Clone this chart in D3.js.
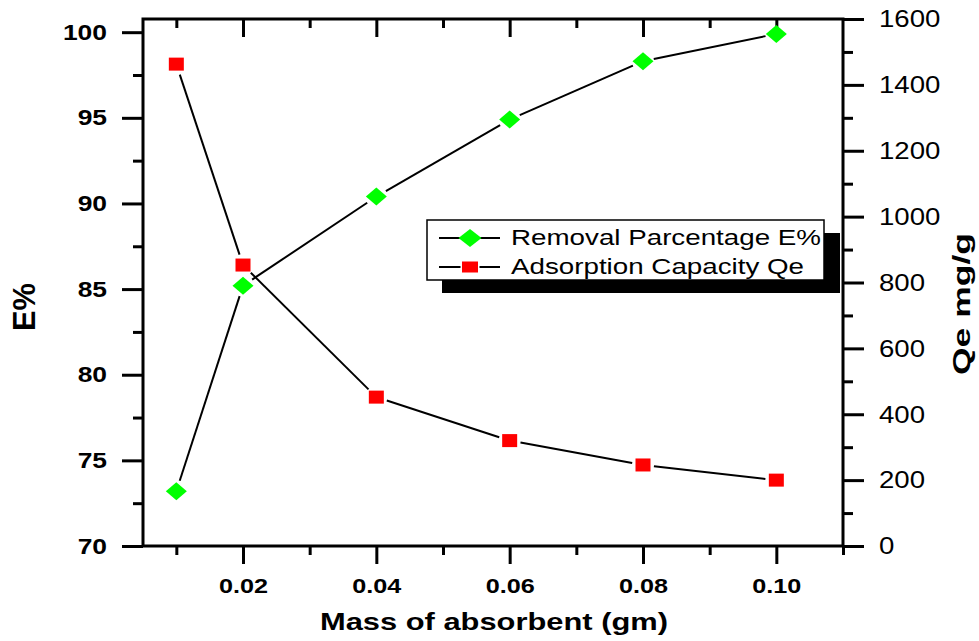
<!DOCTYPE html>
<html>
<head>
  <meta charset="utf-8">
  <script src="https://cdn.jsdelivr.net/npm/d3@7"></script>
  <style>
  body { margin: 0; background: #fff; }
  svg text { font-family: Arial, "Liberation Sans", sans-serif; fill: #000; }
  .axis .domain { display: none; }
  .axis line { stroke: #000; stroke-width: 3; }
  </style>
</head>
<body>
<script>
  // data
  var mass = [0.01, 0.02, 0.04, 0.06, 0.08, 0.10];
  var removal = [73.2, 85.2, 90.4, 94.9, 98.3, 99.9];      // E%
  var capacity = [1463, 853, 452, 320, 246, 200];          // Qe mg/g

  var xMajor = [0.02, 0.04, 0.06, 0.08, 0.10];
  var xMinor = [0.01, 0.03, 0.05, 0.07, 0.09, 0.11];
  var eMajor = [70, 75, 80, 85, 90, 95, 100];
  var eMinor = [72.5, 77.5, 82.5, 87.5, 92.5, 97.5];
  var qMajor = [0, 200, 400, 600, 800, 1000, 1200, 1400, 1600];
  var qMinor = [100, 300, 500, 700, 900, 1100, 1300, 1500];

  var seriesNames = ["Removal Parcentage E%", "Adsorption Capacity Qe"];

  var canvasWidth = 979, canvasHeight = 641;
  var margin = {left: 143, right: 843, top: 19, bottom: 546};
  var SX = 1.2; // the original text is drawn a little wider than normal

  var svg = d3.select("body").append("svg")
      .attr("width", canvasWidth)
      .attr("height", canvasHeight);

  var x = d3.scaleLinear().domain([0.005, 0.11]).range([margin.left, margin.right]);
  var yE = d3.scaleLinear().domain([70, 100.77]).range([margin.bottom, margin.top]);
  var yQ = d3.scaleLinear().domain([0, 1600]).range([margin.bottom, margin.top]);

  function widen(sel, f) {
    sel.each(function() {
      var w = this.getComputedTextLength();
      d3.select(this).attr("textLength", w * f).attr("lengthAdjust", "spacingAndGlyphs");
    });
  }

  // bottom axis
  var gx = svg.append("g").attr("class", "axis")
      .attr("transform", "translate(0," + margin.bottom + ")")
      .call(d3.axisBottom(x).tickValues(xMajor).tickSize(18).tickSizeOuter(0).tickFormat(d3.format(".2f")));
  gx.selectAll("text").attr("y", 32).attr("dy", "0.71em")
      .attr("font-size", 21).attr("font-weight", "bold");
  svg.append("g").attr("class", "axis")
      .attr("transform", "translate(0," + margin.bottom + ")")
      .call(d3.axisBottom(x).tickValues(xMinor).tickSize(9).tickSizeOuter(0).tickFormat(""));

  // top axis, ticks inward
  svg.append("g").attr("class", "axis")
      .attr("transform", "translate(0," + margin.top + ")")
      .call(d3.axisBottom(x).tickValues(xMajor).tickSize(18).tickSizeOuter(0).tickFormat(""));
  svg.append("g").attr("class", "axis")
      .attr("transform", "translate(0," + margin.top + ")")
      .call(d3.axisBottom(x).tickValues(xMinor.slice(0, 5)).tickSize(9).tickSizeOuter(0).tickFormat(""));

  // left axis
  var gl = svg.append("g").attr("class", "axis")
      .attr("transform", "translate(" + margin.left + ",0)")
      .call(d3.axisLeft(yE).tickValues(eMajor).tickSize(21).tickSizeOuter(0).tickFormat(d3.format("d")));
  gl.selectAll("text").attr("x", -36).attr("dy", "0.32em")
      .attr("font-size", 22).attr("font-weight", "bold");
  svg.append("g").attr("class", "axis")
      .attr("transform", "translate(" + margin.left + ",0)")
      .call(d3.axisLeft(yE).tickValues(eMinor).tickSize(10).tickSizeOuter(0).tickFormat(""));

  // right axis
  var gr = svg.append("g").attr("class", "axis")
      .attr("transform", "translate(" + margin.right + ",0)")
      .call(d3.axisRight(yQ).tickValues(qMajor).tickSize(21).tickSizeOuter(0).tickFormat(d3.format("d")));
  gr.selectAll("text").attr("x", 36).attr("dy", "0.34em")
      .attr("font-size", 23);
  svg.append("g").attr("class", "axis")
      .attr("transform", "translate(" + margin.right + ",0)")
      .call(d3.axisRight(yQ).tickValues(qMinor).tickSize(10).tickSizeOuter(0).tickFormat(""));

  svg.selectAll(".axis").attr("font-family", null);
  svg.selectAll(".axis text").call(widen, SX);

  // frame
  svg.append("rect")
      .attr("x", margin.left).attr("y", margin.top)
      .attr("width", margin.right - margin.left).attr("height", margin.bottom - margin.top)
      .attr("fill", "none").attr("stroke", "#000").attr("stroke-width", 3);

  // connecting lines, stopped short of the markers
  function gappedSegments(pts, gap) {
    var segs = [];
    for (var i = 0; i < pts.length - 1; i++) {
      var x0 = pts[i][0], y0 = pts[i][1], x1 = pts[i + 1][0], y1 = pts[i + 1][1];
      var dx = x1 - x0, dy = y1 - y0, len = Math.sqrt(dx * dx + dy * dy);
      var ux = dx / len, uy = dy / len;
      segs.push([x0 + ux * gap, y0 + uy * gap, x1 - ux * gap, y1 - uy * gap]);
    }
    return segs;
  }

  var ePts = mass.map(function(m, i) { return [x(m), yE(removal[i])]; });
  var qPts = mass.map(function(m, i) { return [x(m), yQ(capacity[i])]; });

  [ePts, qPts].forEach(function(pts) {
    svg.append("g").selectAll("line")
      .data(gappedSegments(pts, 11))
      .enter().append("line")
      .attr("x1", function(d) { return d[0]; })
      .attr("y1", function(d) { return d[1]; })
      .attr("x2", function(d) { return d[2]; })
      .attr("y2", function(d) { return d[3]; })
      .attr("stroke", "#000").attr("stroke-width", 2);
  });

  function diamond(w, h) {
    return "M0," + (-h) + "L" + w + ",0L0," + h + "L" + (-w) + ",0Z";
  }

  svg.append("g").selectAll("path")
    .data(ePts).enter().append("path")
    .attr("transform", function(d) { return "translate(" + d[0] + "," + d[1] + ")"; })
    .attr("d", diamond(10.5, 9))
    .attr("fill", "#00ff00");

  svg.append("g").selectAll("rect")
    .data(qPts).enter().append("rect")
    .attr("x", function(d) { return d[0] - 7.5; })
    .attr("y", function(d) { return d[1] - 6.5; })
    .attr("width", 15).attr("height", 13)
    .attr("fill", "#ff0000");

  // legend
  var lg = svg.append("g");
  lg.append("rect").attr("x", 442).attr("y", 233).attr("width", 398).attr("height", 60).attr("fill", "#000");
  lg.append("rect").attr("x", 427).attr("y", 220).attr("width", 397).attr("height", 60)
    .attr("fill", "#fff").attr("stroke", "#000").attr("stroke-width", 1.5);

  var rowY = [238, 267];
  var textLen = [310, 293];
  var item = lg.selectAll("g.item").data(seriesNames).enter().append("g")
    .attr("class", "item")
    .attr("transform", function(d, i) { return "translate(0," + rowY[i] + ")"; });
  item.append("line").attr("x1", 439).attr("x2", 500).attr("y1", 0).attr("y2", 0)
    .attr("stroke", "#000").attr("stroke-width", 2);
  item.filter(function(d, i) { return i === 0; }).append("path")
    .attr("transform", "translate(470,0)")
    .attr("d", diamond(11.5, 9)).attr("fill", "#00ff00");
  item.filter(function(d, i) { return i === 1; }).append("rect")
    .attr("x", 462).attr("y", -5.5).attr("width", 16).attr("height", 11)
    .attr("fill", "#ff0000").attr("stroke", "#fff").attr("stroke-width", 3).attr("paint-order", "stroke");
  item.append("text")
    .attr("x", 511).attr("y", 7)
    .attr("font-size", 22)
    .attr("textLength", function(d, i) { return textLen[i]; })
    .attr("lengthAdjust", "spacingAndGlyphs")
    .text(function(d) { return d; });

  // axis titles
  svg.append("text")
    .attr("x", 494).attr("y", 630)
    .attr("text-anchor", "middle")
    .attr("font-size", 24).attr("font-weight", "bold")
    .attr("textLength", 348).attr("lengthAdjust", "spacingAndGlyphs")
    .text("Mass of absorbent (gm)");

  svg.append("text")
    .attr("transform", "translate(35,307) rotate(-90)")
    .attr("text-anchor", "middle")
    .attr("font-size", 31).attr("font-weight", "bold")
    .attr("textLength", 48).attr("lengthAdjust", "spacingAndGlyphs")
    .text("E%");

  svg.append("text")
    .attr("transform", "translate(970,304) rotate(-90)")
    .attr("text-anchor", "middle")
    .attr("font-size", 24).attr("font-weight", "bold")
    .attr("textLength", 142).attr("lengthAdjust", "spacingAndGlyphs")
    .text("Qe mg/g");
</script>
</body>
</html>
